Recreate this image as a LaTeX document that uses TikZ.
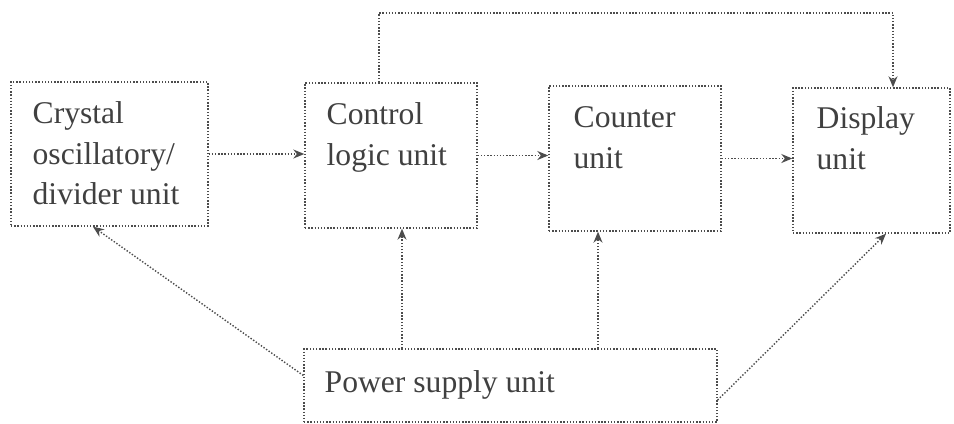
\documentclass[tikz,border=0pt]{standalone}
\usepackage{fontspec}
\setmainfont{Liberation Serif}
\usepackage{xcolor}
\usepackage{tikz}
\usetikzlibrary{arrows.meta}

\begin{document}
\begin{tikzpicture}[x=0.02cm,y=-0.02cm,
  unitbox/.style={draw=black!70,densely dotted,line width=0.8pt,inner sep=0pt},
  unittext/.style={anchor=north west,inner sep=0pt,align=left,text=black!75,font=\fontsize{18}{23}\selectfont},
  link/.style={draw=black!70,densely dotted,line width=0.8pt,-{Stealth[length=0.22cm,width=0.18cm]}}]
\useasboundingbox (0,0) rectangle (954,423);

\node[unitbox,minimum width=3.94cm,minimum height=2.88cm] (crystal) at (109.5,154) {};
\node[unitbox,minimum width=3.44cm,minimum height=2.9cm] (control) at (391,155.5) {};
\node[unitbox,minimum width=3.44cm,minimum height=2.9cm] (counter) at (635,158.5) {};
\node[unitbox,minimum width=3.14cm,minimum height=2.9cm] (display) at (871.5,160.5) {};
\node[unitbox,minimum width=8.26cm,minimum height=1.46cm] (psu) at (510.5,385.5) {};

\node[unittext] (crystaltext) at ([shift={(22,20)}]crystal.north west) {Crystal\\oscillatory/\\divider unit};
\node[unittext] (controltext) at ([shift={(22,20)}]control.north west) {Control\\logic unit};
\node[unittext] (countertext) at ([shift={(25,21)}]counter.north west) {Counter\\unit};
\node[unittext] (displaytext) at ([shift={(24,19)}]display.north west) {Display\\unit};
\node[unittext] (psutext) at ([shift={(21,22)}]psu.north west) {Power supply unit};

\coordinate (loop) at (893,13);

\draw[link] (crystal.east) -- (crystal.east -| control.west);
\draw[link] (control.east) -- (control.east -| counter.west);
\draw[link] (counter.east) -- (counter.east -| display.west);
\draw[link] ([xshift=-0.24cm]control.north) |- (loop) -- (loop |- display.north);
\draw[link] ([yshift=0.2cm]psu.west) -- ([xshift=-0.33cm]crystal.south);
\draw[link] ([xshift=0.22cm]control.south |- psu.north) -- ([xshift=0.22cm]control.south);
\draw[link] ([xshift=-0.74cm]counter.south |- psu.north) -- ([xshift=-0.74cm]counter.south);
\draw[link] ([yshift=-0.29cm]psu.east) -- ([xshift=0.29cm]display.south);
\end{tikzpicture}
\end{document}
